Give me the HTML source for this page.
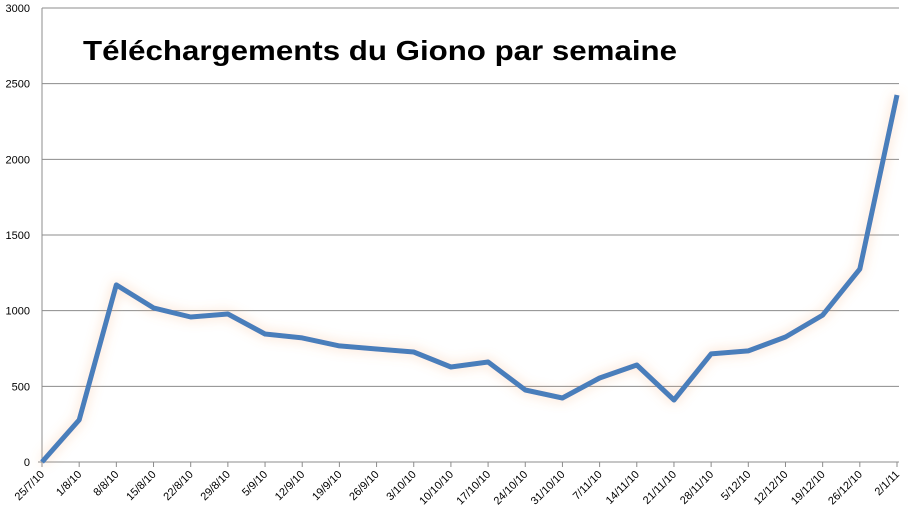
<!DOCTYPE html>
<html><head><meta charset="utf-8"><style>
html,body{margin:0;padding:0;background:#fff;}
svg{display:block;font-family:"Liberation Sans","DejaVu Sans",sans-serif;}
</style></head><body>
<svg id="chart" width="908" height="522">
<defs>
<filter id="glow" x="-10%" y="-10%" width="120%" height="120%">
<feGaussianBlur in="SourceAlpha" stdDeviation="6" result="b"/>
<feFlood flood-color="#f4a46a" flood-opacity="0.45"/>
<feComposite in2="b" operator="in" result="g"/>
<feMerge><feMergeNode in="g"/><feMergeNode in="SourceGraphic"/></feMerge>
</filter>
</defs>
<g id="grid"></g>
<g id="axes"></g>
<text x="83" y="60" font-size="28" font-weight="bold" fill="#000" textLength="594" lengthAdjust="spacingAndGlyphs">Téléchargements du Giono par semaine</text>
<g id="series"></g>
</svg>
<script>
const categories = ["25/7/10","1/8/10","8/8/10","15/8/10","22/8/10","29/8/10","5/9/10","12/9/10","19/9/10","26/9/10","3/10/10","10/10/10","17/10/10","24/10/10","31/10/10","7/11/10","14/11/10","21/11/10","28/11/10","5/12/10","12/12/10","19/12/10","26/12/10","2/1/11"];
const downloads = [0,278,1170,1018,958,978,846,820,767,747,727,628,661,476,423,555,641,410,714,734,826,971,1275,2425];
const yTicks = [0,500,1000,1500,2000,2500,3000];

const NS="http://www.w3.org/2000/svg";
const x0=42,x1=897,yBase=462,yTop=8,yMax=3000;
const xS=i=>x0+i*(x1-x0)/(categories.length-1);
const yS=v=>yBase-v/yMax*(yBase-yTop);
function mk(tag,attrs,parent){const e=document.createElementNS(NS,tag);for(const k in attrs)e.setAttribute(k,attrs[k]);parent.appendChild(e);return e;}
const grid=document.getElementById('grid'),axes=document.getElementById('axes'),series=document.getElementById('series');
yTicks.forEach(v=>{
  const y=yS(v);
  if(v>0){const l=mk('line',{x1:x0,x2:899,y1:y,y2:y,stroke:'#8c8c8c','stroke-width':1},grid);
  
  }
  const t=mk('text',{x:30,y:y+4,'font-size':11,'text-anchor':'end',fill:'#000'},axes);
  t.textContent=v;
  
  
});
mk('line',{x1:x0,x2:x0,y1:yTop,y2:yBase+4,stroke:'#8c8c8c'},axes);
mk('line',{x1:x0-4,x2:899,y1:yBase,y2:yBase,stroke:'#8c8c8c'},axes);
categories.forEach((c,i)=>{
  const x=xS(i);
  mk('line',{x1:x,x2:x,y1:yBase,y2:yBase+5,stroke:'#8c8c8c'},axes);
  const t=mk('text',{x:x+3,y:yBase+13,'font-size':11,'text-anchor':'end',fill:'#000',transform:`rotate(-45 ${x+3} ${yBase+13})`},axes);
  t.textContent=c;
  
  
});
const pts=downloads.map((v,i)=>xS(i).toFixed(1)+','+yS(v).toFixed(1)).join(' ');
const pl=mk('polyline',{points:pts,fill:'none',stroke:'#4a7ebb','stroke-width':5,'stroke-linejoin':'round',filter:'url(#glow)'},series);


</script>
</body></html>
